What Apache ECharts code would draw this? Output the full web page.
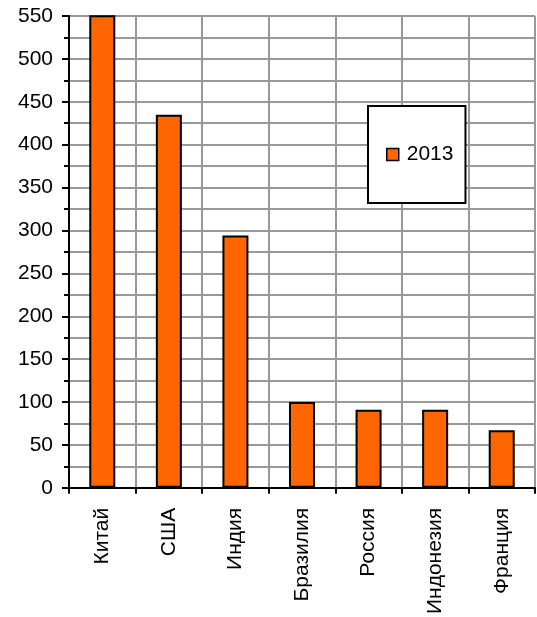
<!DOCTYPE html>
<html>
<head>
<meta charset="utf-8">
<script src="https://cdn.jsdelivr.net/npm/echarts@6/dist/echarts.min.js"></script>
<style>
html,body{margin:0;padding:0;background:#fff;}
#c{width:537px;height:617px;}
</style>
</head>
<body>
<div id="c"></div>
<script>
var categories = ['Китай', 'США', 'Индия', 'Бразилия', 'Россия', 'Индонезия', 'Франция'];
var seriesName = '2013';
var values2013 = [551, 435, 294, 100, 91, 91, 67];

var FONT = 'Liberation Sans';
var chart = echarts.init(document.getElementById('c'), null, {renderer: 'canvas'});
chart.setOption({
  animation: false,
  backgroundColor: '#fff',
  textStyle: {fontFamily: FONT, color: '#000'},
  grid: {left: 69, right: 2, top: 16, bottom: 128.5, containLabel: false},
  legend: {
    data: [seriesName],
    left: 368, top: 106,
    orient: 'vertical',
    padding: [38, 12, 38, 18],
    backgroundColor: '#fff',
    borderColor: '#000',
    borderWidth: 2,
    borderRadius: 0,
    itemWidth: 12, itemHeight: 12,
    icon: 'rect',
    itemStyle: {color: '#FF6600', borderColor: '#000', borderWidth: 1.5},
    textStyle: {fontFamily: FONT, fontSize: 21, color: '#000', padding: [0, 0, 0, 3]}
  },
  xAxis: {
    type: 'category',
    data: categories,
    boundaryGap: true,
    axisLine: {show: true, lineStyle: {color: '#000', width: 2}},
    axisTick: {show: true, length: 6, lineStyle: {color: '#000', width: 2}},
    axisLabel: {rotate: 90, margin: 20, fontFamily: FONT, fontSize: 21, color: '#000', interval: 0},
    splitLine: {show: true, lineStyle: {color: '#999', width: 2}}
  },
  yAxis: {
    type: 'value',
    min: 0, max: 550, interval: 50,
    axisLine: {show: true, lineStyle: {color: '#000', width: 2}},
    axisTick: {show: true, length: 7, lineStyle: {color: '#000', width: 2}},
    minorTick: {show: true, splitNumber: 2, length: 5, lineStyle: {color: '#000', width: 2}},
    axisLabel: {margin: 16, fontFamily: FONT, fontSize: 21, color: '#000'},
    splitLine: {show: true, lineStyle: {color: '#999', width: 2}},
    minorSplitLine: {show: true, lineStyle: {color: '#999', width: 2}}
  },
  series: [{
    name: seriesName,
    type: 'bar',
    data: values2013,
    barWidth: 26,
    clip: false,
    itemStyle: {color: '#FF6600', borderColor: '#000', borderWidth: 2}
  }]
});
</script>
</body>
</html>
